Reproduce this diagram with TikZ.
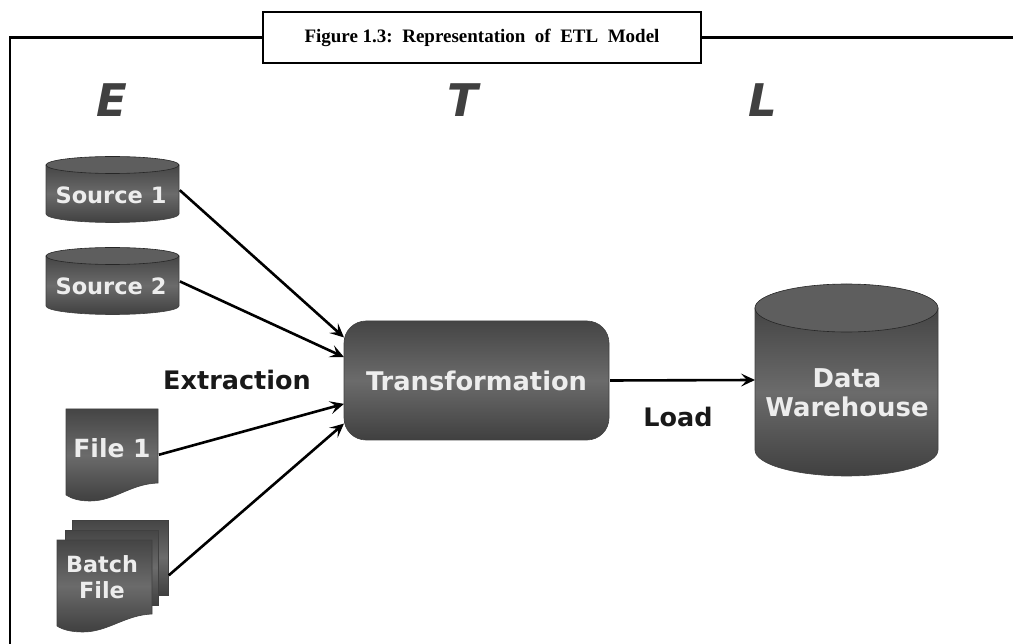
\documentclass[tikz,border=0pt]{standalone}
\usepackage{fontspec}
\setsansfont{DejaVu Sans}
\newfontfamily\titlefont{Liberation Serif}
\usepackage{xcolor}
\usetikzlibrary{arrows.meta}
\definecolor{inkA}{gray}{0.27}
\definecolor{inkB}{gray}{0.42}
\definecolor{inkC}{gray}{0.25}
\definecolor{inkD}{gray}{0.37}
\definecolor{paleA}{gray}{0.93}
\tikzset{%
  tipA/.tip={Stealth[length=14pt,width=13pt,inset=6pt]},
  frameline/.style={draw=black,line width=2.8pt},
  flow/.style={draw=black,line width=2.6pt,-tipA,shorten <=1pt},
  body/.style={draw=inkC,line width=.6pt,top color=inkA,bottom color=inkC,middle color=inkB},
  lid/.style={draw=black!85,line width=.6pt,fill=inkD},
  slot/.style={inner sep=0pt,outer sep=0pt},
  boxtext/.style={inner sep=0pt,align=center,text=paleA,font=\sffamily\bfseries\fontsize{22.5}{27}\selectfont},
  darktext/.style={inner sep=0pt,text=black!90,font=\sffamily\bfseries\fontsize{25.5}{28}\selectfont},
  stage/.style={inner sep=0pt,text=black!75,font=\sffamily\bfseries\itshape\fontsize{45}{50}\selectfont},
}

\begin{document}
\begin{tikzpicture}[x=1pt,y=-1pt]
\useasboundingbox (0,0) rectangle (1013,644);
% outer frame and title
\node[slot,draw=black,line width=2.8pt,fill=white,minimum width=438pt,minimum height=51pt,
  font=\titlefont\bfseries\fontsize{19}{20}\selectfont] (title) at (482,37.5) {Figure 1.3:\ \ Representation\ \ of\ \ ETL\ \ Model};
\coordinate (framecorner) at (10,37.5);
\coordinate (framefoot) at (10,646);
\coordinate (frameend) at (1015,37.5);
\draw[frameline] (framefoot) -- (framecorner) -- (title.west);
\draw[frameline] (title.east) -- (frameend);
\node[stage] (stageE) at (112,100) {E};
\node[stage] (stageT) at (463,100) {T};
\node[stage] (stageL) at (763,100) {L};
% sources
\path[body] (46,165) -- (46,214) arc[start angle=180,end angle=0,x radius=66.5,y radius=8.5] -- (179,165) -- cycle;
\path[lid] (112.5,165) ellipse (66.5 and 8.5);
\path[body] (46,256) -- (46,306) arc[start angle=180,end angle=0,x radius=66.5,y radius=8.5] -- (179,256) -- cycle;
\path[lid] (112.5,256) ellipse (66.5 and 8.5);
\node[slot,minimum width=133pt,minimum height=65pt] (srcA) at (112.5,189.5) {};
\node[slot,minimum width=133pt,minimum height=66pt] (srcB) at (112.5,281) {};
\node[boxtext] (srcAtext) at (111,195) {Source 1};
\node[boxtext] (srcBtext) at (111,286) {Source 2};
% files
\path[body] (66,409) -- (158,409) -- (158,483) .. controls (130,484) and (115,501) .. (90,501) .. controls (80,501) and (72,499) .. (66,495) -- cycle;
\node[slot,minimum width=92pt,minimum height=92pt] (fileA) at (112,455) {};
\node[boxtext,font=\sffamily\bfseries\fontsize{25}{28}\selectfont] (fileAtext) at (112,448) {File 1};
\path[body] (72,520) -- (168,520) -- (168,595) -- (72,595) -- cycle;
\path[body] (65,530) -- (158,530) -- (158,605) -- (65,605) -- cycle;
\path[body] (57,540) -- (152,540) -- (152,614) .. controls (125,615) and (108,632) .. (83,632) .. controls (72,632) and (63,630) .. (57,626) -- cycle;
\node[slot,minimum width=111pt,minimum height=112pt] (batch) at (112.5,576) {};
\node[boxtext,font=\sffamily\bfseries\fontsize{22.3}{26}\selectfont] (batchtext) at (102,577) {Batch\\File};
% transformation
\node[slot,minimum width=265pt,minimum height=119pt,rounded corners=22pt,body,
  text=paleA,font=\sffamily\bfseries\fontsize{25.7}{28}\selectfont] (trans) at (476.5,380.5) {Transformation};
% warehouse
\path[body] (755,308) -- (755,450) arc[start angle=180,end angle=0,x radius=91.5,y radius=26] -- (938,308) -- cycle;
\path[lid] (846.5,308) ellipse (91.5 and 24);
\node[slot,minimum width=183pt,minimum height=192pt] (ware) at (846.5,380) {};
\node[boxtext,font=\sffamily\bfseries\fontsize{25.9}{29}\selectfont] (waretext) at (847,393) {Data\\Warehouse};
% labels
\node[darktext] (extract) at (237,380) {Extraction};
\node[darktext] (load) at (678,417) {Load};
% connectors
\draw[flow] (srcA.east) -- (trans.162.4);
\draw[flow] (srcB.east) -- (trans.170);
\draw[flow] (fileA.east) -- (trans.190.5);
\draw[flow] (batch.east) -- (trans.198.2);
\draw[flow] (trans.east) -- (ware.west);
\end{tikzpicture}
\end{document}
